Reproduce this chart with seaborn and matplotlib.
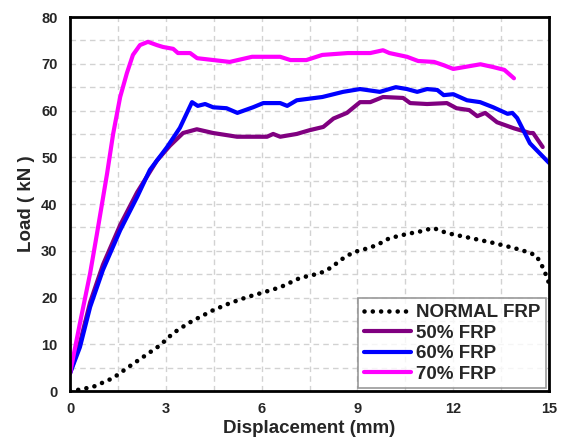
import matplotlib
matplotlib.use("Agg")
import matplotlib.pyplot as plt
import seaborn as sns
import numpy as np

# ---- data ----
normal_x = [0.0, 0.2, 0.72, 1.35, 1.82, 2.29, 2.82, 3.23, 3.7, 4.0, 4.48, 5.0, 5.54, 6.0, 6.58, 7.2, 7.83, 8.2, 8.46, 8.87, 9.2, 9.6, 10.0, 10.55, 11.0, 11.37, 11.8, 12.43, 13.25, 13.9, 14.3, 14.6, 14.8, 14.97, 15.0]
normal_y = [0.0, 0.2, 0.9, 2.8, 5.1, 7.3, 9.8, 12.4, 14.5, 15.6, 17.3, 18.8, 20.1, 21.0, 22.2, 24.2, 25.2, 26.5, 28.0, 29.7, 30.3, 31.2, 32.7, 33.6, 34.2, 34.9, 33.8, 32.9, 31.7, 30.6, 29.8, 29.0, 26.5, 23.7, 22.5]

frp50_x = [0.0, 0.31, 0.63, 1.03, 1.57, 2.1, 2.72, 3.13, 3.54, 3.97, 4.48, 5.23, 6.17, 6.36, 6.58, 7.1, 7.5, 7.93, 8.25, 8.67, 9.08, 9.4, 9.8, 10.43, 10.65, 11.18, 11.8, 12.1, 12.5, 12.75, 13.0, 13.37, 13.9, 14.4, 14.5, 14.8]
frp50_y = [3.8, 10.3, 19.0, 27.0, 35.5, 42.5, 49.3, 52.5, 55.2, 56.0, 55.2, 54.4, 54.4, 55.0, 54.4, 55.0, 55.8, 56.5, 58.3, 59.5, 61.8, 61.8, 62.9, 62.7, 61.6, 61.4, 61.6, 60.5, 60.1, 58.8, 59.5, 57.5, 56.2, 55.2, 55.2, 52.2]

frp60_x = [0.0, 0.31, 0.63, 1.03, 1.57, 2.1, 2.5, 3.04, 3.44, 3.82, 4.0, 4.23, 4.48, 4.9, 5.24, 5.73, 6.05, 6.58, 6.8, 7.1, 7.9, 8.55, 9.08, 9.7, 10.2, 10.55, 10.87, 11.18, 11.5, 11.7, 12.0, 12.43, 12.84, 13.25, 13.7, 13.85, 14.0, 14.4, 15.0]
frp60_y = [3.8, 9.4, 18.0, 25.9, 34.4, 41.5, 47.3, 52.2, 56.3, 61.8, 61.0, 61.4, 60.7, 60.5, 59.5, 60.7, 61.6, 61.6, 61.0, 62.2, 62.9, 64.0, 64.6, 64.0, 65.0, 64.6, 64.0, 64.6, 64.4, 63.3, 63.5, 62.2, 61.8, 60.7, 59.3, 59.5, 58.4, 53.0, 48.8]

frp70_x = [0.0, 0.31, 0.63, 0.84, 1.16, 1.35, 1.57, 1.78, 1.97, 2.19, 2.44, 2.72, 2.91, 3.23, 3.38, 3.76, 3.98, 5.0, 5.7, 6.58, 6.9, 7.4, 7.9, 8.7, 9.4, 9.8, 10.0, 10.55, 10.9, 11.4, 11.7, 12.0, 12.85, 13.25, 13.6, 13.9]
frp70_y = [3.8, 14.5, 25.2, 33.5, 46.5, 55.0, 62.9, 68.0, 71.9, 74.0, 74.7, 74.0, 73.6, 73.2, 72.3, 72.3, 71.2, 70.4, 71.5, 71.5, 70.8, 70.8, 71.9, 72.3, 72.3, 72.9, 72.3, 71.5, 70.6, 70.4, 69.7, 68.9, 69.9, 69.3, 68.7, 66.9]

labels = ["NORMAL FRP", "50% FRP", "60% FRP", "70% FRP"]
x_ticks = [0, 3, 6, 9, 12, 15]
y_ticks = [0, 10, 20, 30, 40, 50, 60, 70, 80]

sns.set_style("white")
plt.rcParams['font.family'] = ['Liberation Sans', 'DejaVu Sans']
plt.rcParams['font.weight'] = 'bold'

fig = plt.figure(figsize=(5.61, 4.37), dpi=100)
ax = fig.add_axes([0.1248, 0.105, 0.854, 0.856])

sns.lineplot(x=normal_x, y=normal_y, ax=ax, color="black", linestyle=(0, (0.01, 1.8)),
             linewidth=3.3, label=labels[0], sort=False, estimator=None,
             dash_capstyle="round", solid_capstyle="round")
sns.lineplot(x=frp50_x, y=frp50_y, ax=ax, color="#800080", linewidth=3,
             label=labels[1], sort=False, estimator=None)
sns.lineplot(x=frp60_x, y=frp60_y, ax=ax, color="#0000ff", linewidth=3,
             label=labels[2], sort=False, estimator=None)
sns.lineplot(x=frp70_x, y=frp70_y, ax=ax, color="#ff00ff", linewidth=3,
             label=labels[3], sort=False, estimator=None)

ax.set_xlim(0, 15)
ax.set_ylim(0, 80)
ax.set_xticks(x_ticks)
ax.set_yticks(y_ticks)
ax.set_xticks(np.arange(0, 15.01, 1.5), minor=True)
ax.set_yticks(np.arange(0, 80.01, 5), minor=True)
ax.grid(True, which="both", color="#d2d2d2", linestyle=(0, (4, 3)), linewidth=1)
ax.set_axisbelow(True)
ax.tick_params(axis="x", which="both", length=0, labelsize=10.5, pad=8)
ax.tick_params(axis="y", which="both", length=0, labelsize=10.5, pad=9)
for lab in ax.get_xticklabels() + ax.get_yticklabels():
    lab.set_fontweight("bold")
for s in ax.spines.values():
    s.set_linewidth(2)
    s.set_color("black")

ax.set_xlabel("Displacement (mm)", fontsize=13.5, fontweight="bold", labelpad=3)
ax.set_ylabel("Load ( kN )", fontsize=13.5, fontweight="bold", labelpad=4)

leg = ax.legend(loc="lower right", frameon=True, fancybox=False,
                borderpad=0.3, labelspacing=0.18, handlelength=2.5, handletextpad=0.3,
                borderaxespad=0.15, prop={"weight": "bold", "size": 13.5})
leg.get_frame().set_edgecolor("#808080")
leg.get_frame().set_linewidth(1.2)
for h in leg.get_lines():
    h.set_dash_capstyle("round")

fig.savefig("out.png", dpi=100, facecolor="white")
